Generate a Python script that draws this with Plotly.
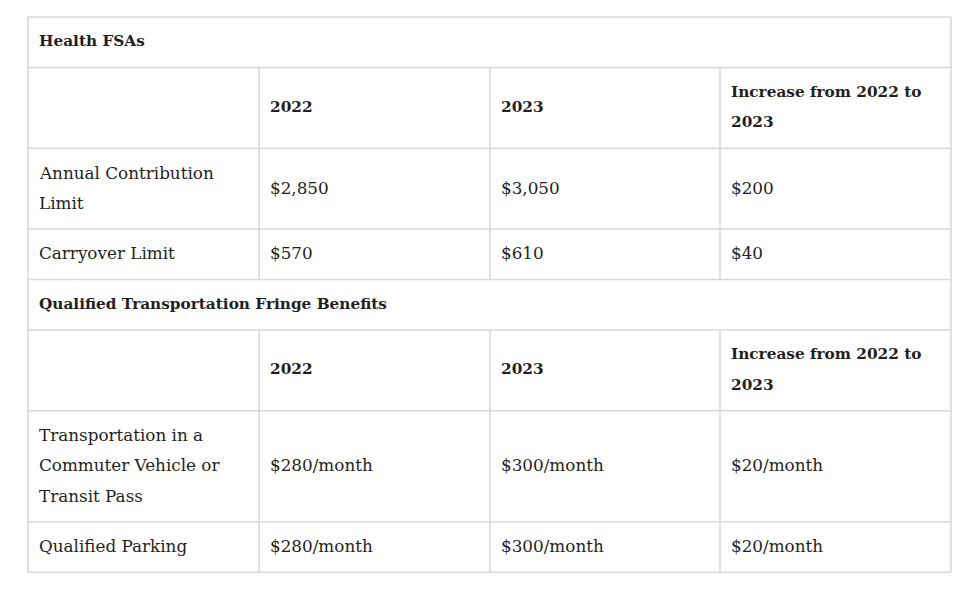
import textwrap
import plotly.graph_objects as go

# ---------------- data ----------------
section_titles = ["Health FSAs", "Qualified Transportation Fringe Benefits"]
column_headers = ["", "2022", "2023", "Increase from 2022 to 2023"]

fsa_labels = ["Annual Contribution Limit", "Carryover Limit"]
fsa_2022 = ["$2,850", "$570"]
fsa_2023 = ["$3,050", "$610"]
fsa_increase = ["$200", "$40"]

transit_labels = ["Transportation in a Commuter Vehicle or Transit Pass", "Qualified Parking"]
transit_2022 = ["$280/month", "$280/month"]
transit_2023 = ["$300/month", "$300/month"]
transit_increase = ["$20/month", "$20/month"]

# ---------------- layout / style ----------------
W, H = 974, 590
OFF = 8  # page body margin
LEFT, RIGHT, TOP = 28, 951, 17
COL_EDGES = [28, 259, 490, 720, 951]
PAD_X = 8.5
TEXT_DY = -1
LINE_H = 30.25
ROW_PAD = 20.25
WRAP = 21
FONT = "DejaVu Serif"
FSIZE = 16.8
FSIZE_B = 15.3
TXT = "#1f1f1f"
BORDER = "#d9d9d9"
BW = 1.6

sections = [
    (section_titles[0], [fsa_labels, fsa_2022, fsa_2023, fsa_increase]),
    (section_titles[1], [transit_labels, transit_2022, transit_2023, transit_increase]),
]

annotations = []
shapes = []


def hline(y):
    shapes.append(dict(type="line", xref="x", yref="y", x0=LEFT, x1=RIGHT, y0=y, y1=y,
                       line=dict(color=BORDER, width=BW)))


def vline(x, y0, y1):
    shapes.append(dict(type="line", xref="x", yref="y", x0=x, x1=x, y0=y0, y1=y1,
                       line=dict(color=BORDER, width=BW)))


def put_text(x, ycenter, lines, bold=False):
    n = len(lines)
    for i, ln in enumerate(lines):
        yy = ycenter + TEXT_DY + (i - (n - 1) / 2) * LINE_H
        annotations.append(dict(
            x=x, y=yy, xref="x", yref="y", text=("<b>%s</b>" % ln) if bold else ln,
            showarrow=False, xanchor="left", yanchor="middle",
            font=dict(family=FONT, size=FSIZE_B if bold else FSIZE, color=TXT)))


y = TOP
hline(y)
for title, cols in sections:
    # full-width section title row
    h = ROW_PAD + LINE_H
    put_text(LEFT + PAD_X, y + h / 2, [title], bold=True)
    y += h
    hline(y)
    # header row + data rows
    rows = [(column_headers, True)] + [([c[r] for c in cols], False) for r in range(len(cols[0]))]
    for cells, bold in rows:
        wrapped = [textwrap.wrap(c, WRAP) if c else [] for c in cells]
        n = max(len(w) for w in wrapped)
        h = ROW_PAD + n * LINE_H
        for j, lines in enumerate(wrapped):
            if lines:
                put_text(COL_EDGES[j] + PAD_X, y + h / 2, lines, bold=bold)
        for x in COL_EDGES[1:-1]:
            vline(x, y, y + h)
        y += h
        hline(y)

vline(LEFT, TOP, y)
vline(RIGHT, TOP, y)

fig = go.Figure()
fig.add_trace(go.Scatter(x=[OFF, W + OFF], y=[OFF, H + OFF], mode="markers",
                         marker=dict(opacity=0), hoverinfo="skip", showlegend=False))
fig.update_layout(
    width=W, height=H, autosize=False,
    margin=dict(l=0, r=0, t=0, b=0),
    paper_bgcolor="white", plot_bgcolor="white",
    xaxis=dict(range=[OFF, W + OFF], visible=False, fixedrange=True),
    yaxis=dict(range=[H + OFF, OFF], visible=False, fixedrange=True),
    shapes=shapes, annotations=annotations,
    showlegend=False,
)
fig.write_html("out.html", config={"displayModeBar": False})
